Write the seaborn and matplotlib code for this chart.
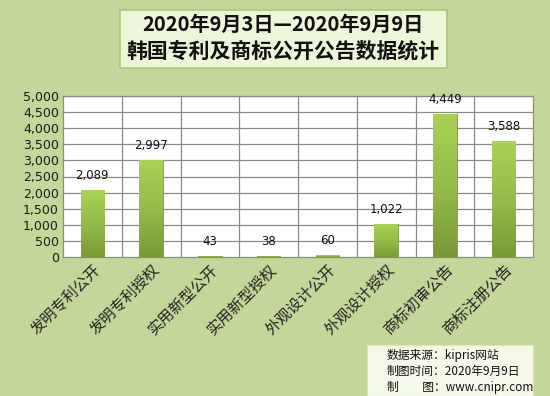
import numpy as np
import pandas as pd
import matplotlib
matplotlib.use("Agg")
import matplotlib.pyplot as plt
from matplotlib.patches import FancyBboxPatch
import seaborn as sns

categories = ["发明专利公开", "发明专利授权", "实用新型公开", "实用新型授权",
              "外观设计公开", "外观设计授权", "商标初审公告", "商标注册公告"]
counts = [2089, 2997, 43, 38, 60, 1022, 4449, 3588]
title_lines = ["2020年9月3日—2020年9月9日", "韩国专利及商标公开公告数据统计"]
footer_lines = ["数据来源：kipris网站", "制图时间：2020年9月9日", "制　　图：www.cnipr.com"]

sns.set_theme(style="white")
plt.rcParams["font.family"] = ["Noto Sans CJK SC", "DejaVu Sans"]

bg = "#C4D79B"
df = pd.DataFrame({"cat": categories, "n": counts})

fig = plt.figure(figsize=(5.5, 3.96), dpi=100, facecolor=bg)
ax = fig.add_axes([63 / 550, 1 - 257 / 396, 470 / 550, 161 / 396])
ax.set_facecolor("white")

sns.barplot(data=df, x="cat", y="n", color="#9BBB59", width=0.4, ax=ax,
            edgecolor="#7E9A3E", linewidth=0.6, zorder=3)

# vertical gradient inside each bar
grad = np.linspace(0, 1, 256).reshape(-1, 1)
cmap = matplotlib.colors.LinearSegmentedColormap.from_list(
    "g", ["#789A36", "#95BC49", "#A9D255"])
for p in ax.patches:
    x0, y0 = p.get_x(), p.get_y()
    w, h = p.get_width(), p.get_height()
    if h <= 0:
        continue
    im = ax.imshow(grad, extent=[x0, x0 + w, y0, y0 + h], origin="lower",
                   cmap=cmap, aspect="auto", zorder=3.5)
    im.set_clip_path(p)

ax.set_xlim(-0.5, len(categories) - 0.5)
ax.set_ylim(0, 5000)
ax.set_yticks(np.arange(0, 5001, 500))
ax.set_yticklabels([f"{v:,}" for v in range(0, 5001, 500)], fontsize=9,
                   color="#1a1a1a", family="DejaVu Sans")
ax.set_xticks(range(len(categories)))
ax.set_xticklabels(categories, rotation=45, ha="right", rotation_mode="anchor",
                   fontsize=11, color="#222222")
ax.tick_params(axis="both", length=0, pad=3)
ax.set_xlabel("")
ax.set_ylabel("")

for v in np.arange(500, 5001, 500):
    ax.axhline(v, color="#8a8a8a", lw=0.9, zorder=1)
for b in np.arange(0.5, len(categories) - 0.5, 1):
    ax.axvline(b, color="#8a8a8a", lw=0.9, zorder=1)
for s in ax.spines.values():
    s.set_color("#8a8a8a")
    s.set_linewidth(0.9)

for i, v in enumerate(counts):
    ax.text(i, v + 250, f"{v:,}", ha="center", va="bottom", fontsize=8.5,
            color="#111111", family="DejaVu Sans", zorder=5)

# title box
fig.patches.append(FancyBboxPatch((120 / 550, 1 - 68 / 396), 327 / 550, 58 / 396,
                                  boxstyle="square,pad=0", transform=fig.transFigure,
                                  facecolor="#EEF6DA", edgecolor="#A9C97A", lw=1.2))
fig.text(283 / 550, 1 - 24 / 396, title_lines[0], ha="center", va="center",
         fontsize=14.5, fontweight="bold", color="#111111")
fig.text(283 / 550, 1 - 51 / 396, title_lines[1], ha="center", va="center",
         fontsize=15, fontweight="bold", color="#111111")

# footer box
fig.patches.append(FancyBboxPatch((367 / 550, 0), 166 / 550, 51 / 396,
                                  boxstyle="square,pad=0", transform=fig.transFigure,
                                  facecolor="#F4F9E9", edgecolor="#D9E8BF", lw=0.8))
for k, line in enumerate(footer_lines):
    fig.text(387 / 550, 1 - (355 + k * 16) / 396, line, ha="left", va="center",
             fontsize=8.5, color="#111111")

fig.savefig("out.png", dpi=100, facecolor=bg)
